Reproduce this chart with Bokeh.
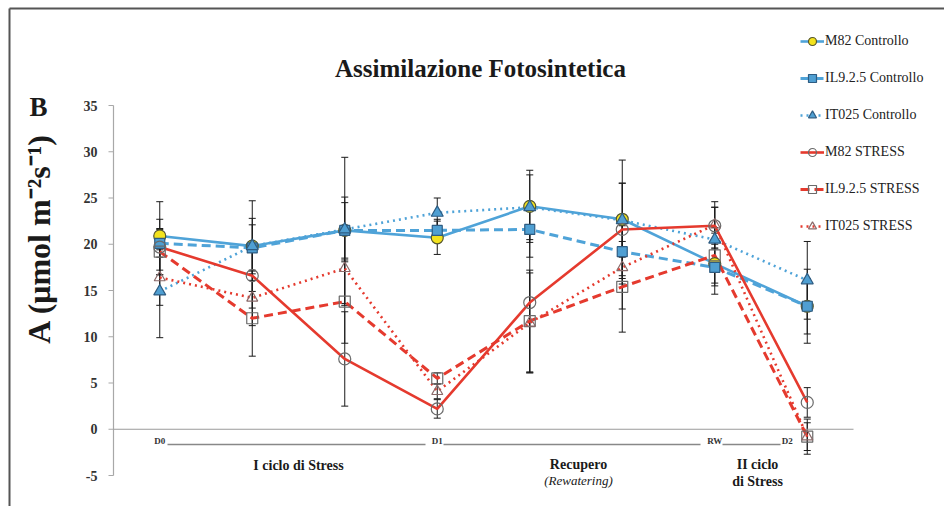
import math
from bokeh.plotting import figure
from bokeh.models import (Range1d, Legend, LegendItem, Whisker, TeeHead,
                          ColumnDataSource)
from bokeh.core.properties import value
from bokeh.embed import file_html
from bokeh.resources import INLINE

# Sampling points along the experiment (D0 ... D2)
points = [0, 1, 2, 3, 4, 5, 6, 7]
stage_labels = ["D0", "D1", "RW", "D2"]
stage_points = [0, 3, 6, 7]
y_ticks = [-5, 0, 5, 10, 15, 20, 25, 30, 35]

# Net photosynthetic assimilation A (µmol m-2 s-1), mean values
m82_ctrl = [20.9, 19.8, 21.5, 20.7, 24.1, 22.7, 17.9, 13.3]
il9_ctrl = [20.1, 19.6, 21.5, 21.5, 21.6, 19.2, 17.5, 13.3]
it025_ctrl = [14.9, 19.8, 21.6, 23.4, 24.0, 22.6, 20.5, 16.1]
m82_stress = [19.7, 16.6, 7.6, 2.2, 13.7, 21.6, 22.0, 2.9]
il9_stress = [19.2, 12.0, 13.8, 5.5, 11.7, 15.4, 18.8, -0.8]
it025_stress = [16.4, 14.2, 17.4, 4.1, 11.5, 17.5, 22.1, -0.8]

# Standard deviations
m82_ctrl_err = [3.7, 4.9, 7.9, 1.8, 3.9, 6.4, 3.3, 4.0]
il9_ctrl_err = [1.5, 2.5, 3.0, 1.2, 3.0, 3.5, 2.0, 3.0]
it025_ctrl_err = [5.0, 3.0, 3.5, 1.6, 3.5, 4.0, 3.5, 4.2]
m82_stress_err = [3.0, 3.5, 5.1, 1.0, 7.6, 5.0, 2.0, 1.6]
il9_stress_err = [2.5, 4.1, 4.5, 0.6, 5.5, 4.9, 3.0, 1.9]
it025_stress_err = [3.0, 3.0, 4.0, 0.8, 5.4, 4.5, 2.5, 1.5]

series_names = ["M82 Controllo", "IL9.2.5 Controllo", "IT025 Controllo",
                "M82 STRESS", "IL9.2.5 STRESS", "IT025 STRESS"]

BLUE = "#4FA3D8"
RED = "#E53A2E"
SERIF = "Liberation Serif"
W, H = 944, 506

# Scale: the plot frame covers the whole canvas; one x step = 92.5 px,
# one y unit = 9.25 px, point 0 sits at x=159.25 px and y=0 at 428.75 px.
X_STEP, X0 = 92.5, 159.25
Y_UNIT, Y0 = 9.25, 428.75


def cx(px):
    return (px - X0) / X_STEP


def cy(py):
    return (Y0 - py) / Y_UNIT


series = [
    dict(y=m82_ctrl, err=m82_ctrl_err, color=BLUE, dash="solid", lw=2.6,
         marker="circle", size=12, fill="#F3E31E", line="#55562E"),
    dict(y=il9_ctrl, err=il9_ctrl_err, color=BLUE, dash="9 5", lw=3,
         marker="square", size=10, fill="#4F9FD2", line="#2E5C82"),
    dict(y=it025_ctrl, err=it025_ctrl_err, color=BLUE, dash="2 4", lw=2.6,
         marker="triangle", size=12, fill="#4F9FD2", line="#2E5C82"),
    dict(y=m82_stress, err=m82_stress_err, color=RED, dash="solid", lw=2.6,
         marker="circle", size=12, fill=None, line="#6A6A6A"),
    dict(y=il9_stress, err=il9_stress_err, color=RED, dash="9 5", lw=3,
         marker="square", size=11, fill=None, line="#6A6A6A"),
    dict(y=it025_stress, err=it025_stress_err, color=RED, dash="2 4", lw=2.6,
         marker="triangle", size=11, fill=None, line="#8A6A6A"),
]

p = figure(width=W, height=H, x_range=Range1d(cx(0), cx(W)), y_range=Range1d(cy(H), cy(0)),
           x_axis_type=None, y_axis_type=None, output_backend="svg", toolbar_location=None,
           min_border=0)
p.outline_line_color = None
p.grid.visible = False
p.background_fill_color = "white"
p.border_fill_color = "white"

# panel frame lines (left and top)
p.segment(x0=[cx(9), cx(9)], y0=[cy(8), cy(8)], x1=[cx(9), cx(W + 5)], y1=[cy(H + 5), cy(8)],
          line_color="#555555", line_width=2)

# y axis: line, ticks, tick labels
axis_x = -0.5
p.segment(x0=axis_x, y0=min(y_ticks), x1=axis_x, y1=max(y_ticks),
          line_color="#A8A8A8", line_width=1.2)
p.segment(x0=[axis_x - 5 / X_STEP] * len(y_ticks), y0=y_ticks,
          x1=[axis_x] * len(y_ticks), y1=y_ticks, line_color="#A8A8A8", line_width=1.2)
p.text(x=[axis_x - 16 / X_STEP] * len(y_ticks), y=y_ticks, text=[str(t) for t in y_ticks],
       text_font=value(SERIF), text_font_style="bold", text_font_size="14px",
       text_color="#333333", text_align="right", text_baseline="middle")
p.text(x=[cx(38)], y=[cy(238)], text=["A (\u03bcmol m\u207b\u00b2s\u207b\u00b9)"],
       angle=math.pi / 2, text_font=value(SERIF), text_font_style="bold",
       text_font_size="32px", text_color="#1A1A1A", text_align="center",
       text_baseline="middle")

# zero line
p.segment(x0=-0.5, y0=0, x1=7.5, y1=0, line_color="#9A9A9A", line_width=1.2)

line_renderers = []
for s in series:
    src = ColumnDataSource(dict(x=points, y=s["y"],
                                upper=[v + e for v, e in zip(s["y"], s["err"])],
                                lower=[v - e for v, e in zip(s["y"], s["err"])]))
    lr = p.line("x", "y", source=src, line_color=s["color"], line_width=s["lw"],
                line_dash=s["dash"])
    line_renderers.append(lr)
    s["src"] = src

for s in series:
    p.add_layout(Whisker(source=s["src"], base="x", upper="upper", lower="lower",
                         line_color="#1A1A1A", line_width=1,
                         upper_head=TeeHead(size=7, line_color="#1A1A1A", line_width=1),
                         lower_head=TeeHead(size=7, line_color="#1A1A1A", line_width=1)))

items = []
for s, name, lr in zip(series, series_names, line_renderers):
    mr = p.scatter("x", "y", source=s["src"], marker=s["marker"], size=s["size"],
                   fill_color=s["fill"], line_color=s["line"], line_width=1.2)
    items.append(LegendItem(label=name, renderers=[lr, mr]))

legend = Legend(items=items, location=(800, 270), label_text_font=SERIF,
                label_text_font_size="14px", label_text_color="#222222",
                glyph_width=24, glyph_height=20, spacing=17, padding=0, margin=0,
                label_standoff=1, border_line_color=None, background_fill_alpha=0)
p.add_layout(legend)

# stage markers under the zero line
stage_x = [pt - (20 / X_STEP if lab == "D2" else 0) for pt, lab in zip(stage_points, stage_labels)]
p.text(x=stage_x, y=[cy(440)] * len(stage_x), text=stage_labels, text_font=value(SERIF),
       text_font_style="bold", text_font_size="9px", text_color="#333333",
       text_align="center", text_baseline="middle")

bracket_x0 = [cx(167), cx(443), cx(722)]
bracket_x1 = [cx(425), cx(700), cx(780)]
p.segment(x0=bracket_x0, y0=cy(444), x1=bracket_x1, y1=cy(444), line_color="#888888",
          line_width=1.6)

phase_text = [("I ciclo di Stress", 298, 465, "bold", "14px"),
              ("Recupero", 578, 464, "bold", "14px"),
              ("(Rewatering)", 578, 480, "italic", "13px"),
              ("II ciclo", 757, 464, "bold", "14px"),
              ("di Stress", 757, 481, "bold", "14px")]
for txt, px, py, st, fs in phase_text:
    p.text(x=[cx(px)], y=[cy(py)], text=[txt], text_font=value(SERIF), text_font_style=st,
           text_font_size=fs, text_color="#1A1A1A", text_align="center",
           text_baseline="middle")

p.text(x=[cx(480)], y=[cy(68)], text=["Assimilazione Fotosintetica"], text_font=value(SERIF),
       text_font_style="bold", text_font_size="25px", text_color="#1A1A1A",
       text_align="center", text_baseline="middle")
p.text(x=[cx(38)], y=[cy(106)], text=["B"], text_font=value(SERIF), text_font_style="bold",
       text_font_size="27px", text_color="#1A1A1A", text_align="center",
       text_baseline="middle")

open("out.html", "w").write(file_html(p, INLINE))
